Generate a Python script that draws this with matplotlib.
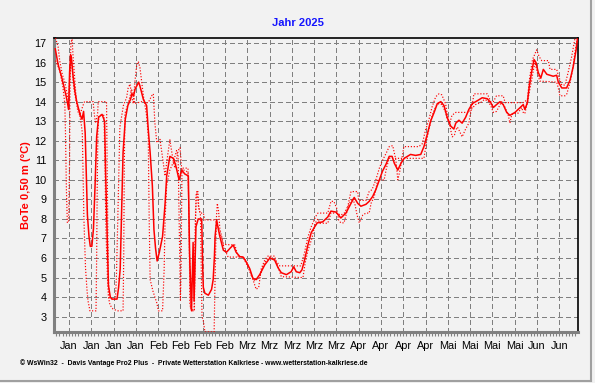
import matplotlib
matplotlib.use("Agg")
import matplotlib.pyplot as plt
from matplotlib.lines import Line2D

plt.rcParams['font.family'] = ['Liberation Sans', 'DejaVu Sans']

# ---- data: day offset (0 = 1 Jan 2025 00:00) and soil temperature at 0.5 m (degC)
avg_series = [(-0.3,16.7),(0.6,15.9),(1.8,15.2),(3.1,14.3),(3.7,13.8),(3.9,13.6),(4.2,15.5),(4.5,16.4),(4.8,16.2),(5.3,15.3),
 (5.9,14.5),(6.5,13.95),(7.6,13.3),(8.1,13.1),(8.6,13.5),(9.1,12.4),(9.4,10.6),(9.8,8.2),(10.3,7.1),(10.7,6.6),
 (11.2,6.6),(11.7,7.5),(12.2,9.7),(12.7,12.2),(13.3,13.2),(14.4,13.35),(15.2,13.0),(15.5,10.5),(16.0,7.1),(16.4,4.6),
 (17.0,4.0),(17.5,3.9),(19.1,3.9),(19.6,4.5),(20.1,5.45),(20.5,8.0),(21.0,11.4),(21.7,13.1),(22.5,13.8),(23.3,14.1),
 (23.8,14.4),(24.3,14.3),(24.8,14.65),(25.9,15.0),(26.3,14.8),(27.4,14.1),(28.4,13.8),(28.9,12.6),(29.5,11.4),(30.2,9.7),
 (30.7,7.45),(31.2,6.5),(31.7,5.85),(32.4,6.3),(33.4,7.1),(34.2,8.8),(34.7,10.2),(35.7,11.2),(36.8,11.1),(37.6,10.7),
 (38.6,10.0),(39.4,10.5),(40.4,10.3),(41.5,10.2),(41.9,6.2),(42.5,3.3),(43.0,6.8),(43.3,3.8),(43.9,7.6),(44.6,8.0),
 (45.7,8.0),(46.0,5.6),(46.2,4.5),(46.7,4.2),(47.8,4.1),(48.8,4.4),(49.3,4.9),(49.7,6.1),(49.9,7.1),(50.4,7.95),
 (50.9,7.5),(51.4,7.1),(52.5,6.4),(53.5,6.3),(54.6,6.5),(55.6,6.67),(56.5,6.3),(57.7,6.07),(58.7,6.05),(59.7,5.8),
 (60.8,5.45),(61.8,4.95),(62.8,4.9),(63.9,5.15),(65.5,5.65),(67.1,6.0),(68.6,5.9),(69.7,5.5),(70.7,5.25),(72.3,5.15),
 (73.8,5.3),(74.6,5.55),(75.4,5.3),(76.5,5.25),(77.2,5.4),(78.0,5.9),(79.1,6.7),(80.1,7.3),(81.2,7.6),(82.0,7.8),
 (83.7,7.85),(85.3,8.1),(86.3,8.4),(87.9,8.35),(89.4,8.05),(91.0,8.3),(92.6,8.8),(93.6,9.1),(94.7,8.8),(95.7,8.65),
 (97.3,8.75),(98.3,8.9),(99.4,9.15),(100.4,9.5),(101.5,10.0),(102.5,10.45),(103.6,10.8),(104.6,11.2),(105.5,11.2),(106.2,10.85),
 (107.3,10.5),(108.3,10.85),(109.3,11.1),(111.3,11.3),(112.9,11.25),(114.5,11.3),(115.5,11.7),(116.5,12.3),(117.6,13.0),(118.7,13.45),
 (119.7,13.9),(120.8,14.0),(121.8,13.8),(122.8,13.2),(123.9,12.75),(124.9,12.6),(125.5,12.9),(126.5,13.05),(127.5,12.9),(128.6,13.2),
 (129.6,13.6),(130.7,13.9),(132.3,14.05),(133.8,14.2),(135.4,14.15),(136.5,13.95),(137.3,13.7),(138.3,13.85),(139.4,14.0),(140.4,13.85),
 (141.5,13.45),(142.5,13.3),(144.1,13.45),(145.7,13.7),(146.7,13.85),(147.2,13.6),(148.0,13.95),(148.6,14.8),(149.3,15.5),(150.1,16.15),
 (150.7,16.0),(151.4,15.5),(152.2,15.2),(153.0,15.65),(154.1,15.4),(155.1,15.35),(156.1,15.3),(157.2,15.35),(157.7,15.0),(158.8,14.7),
 (160.3,14.7),(161.4,15.1),(162.4,15.8),(163.3,16.65),(163.7,17.2)]

hi_series = [(-0.2,17.25),(0.6,16.8),(1.1,16.1),(1.9,15.4),(2.7,15.0),(3.4,14.4),(3.9,14.0),(4.3,15.5),(4.7,16.3),(5.5,14.7),
 (6.3,14.0),(6.8,13.5),(7.4,13.3),(8.4,13.8),(8.9,14.0),(11.6,14.0),(12.0,13.3),(12.4,12.9),(13.0,13.4),(13.2,14.0),
 (15.8,14.0),(16.0,11.0),(16.3,6.0),(16.5,4.5),(16.7,3.95),(18.6,3.9),(18.9,5.0),(19.2,7.0),(19.6,10.0),(19.9,12.0),
 (20.0,12.7),(21.1,13.8),(22.1,14.2),(22.6,14.7),(23.2,14.9),(23.7,14.3),(24.2,13.9),(24.7,15.0),(25.3,15.9),(25.8,16.05),
 (26.3,15.74),(27.4,14.29),(28.4,13.27),(28.9,12.3),(29.2,8.0),(29.5,4.9),(30.4,4.3),(31.6,3.7),(32.1,3.3),(33.4,3.3),
 (33.9,5.4),(34.2,8.0),(34.7,9.7),(35.7,10.5),(36.8,10.9),(37.8,11.5),(38.3,11.2),(38.7,7.0),(39.0,3.85),(39.2,5.0),
 (39.5,10.6),(41.4,10.6),(41.7,8.0),(42.2,3.4),(43.3,3.3),(43.6,6.0),(43.9,9.2),(44.2,9.4),(44.7,8.6),(45.2,8.3),
 (46.2,8.3),(46.7,7.95),(49.6,7.95),(50.2,7.9),(50.8,7.6),(51.4,7.3),(52.0,7.0),(52.5,6.7),(55.5,6.67),(56.1,6.67),
 (57.1,6.1),(58.7,6.05),(59.3,5.95),(60.8,5.45),(61.8,4.9),(62.8,4.4),(63.6,4.5),(64.4,5.45),(65.5,5.9),(66.5,6.1),
 (68.6,6.1),(69.1,5.85),(70.2,5.6),(76.8,5.6),(77.8,6.15),(79.1,7.1),(80.1,7.6),(81.4,8.1),(82.2,8.3),(85.3,8.3),
 (86.3,8.9),(87.2,8.9),(88.1,8.55),(88.7,7.95),(89.4,7.8),(90.4,7.8),(91.2,8.3),(92.1,9.05),(92.6,9.4),(94.7,9.4),
 (95.0,8.95),(97.3,8.95),(98.3,9.4),(99.2,9.5),(100.4,10.0),(101.5,10.6),(102.5,11.0),(103.6,11.35),(104.6,11.7),(105.7,11.75),
 (106.7,11.0),(107.3,10.0),(108.0,10.5),(109.2,11.7),(113.9,11.7),(115.0,11.85),(116.0,12.55),(117.1,13.1),(118.1,13.75),(119.2,14.25),
 (120.2,14.4),(121.1,14.35),(122.3,13.9),(122.8,13.4),(123.9,12.55),(124.4,12.2),(125.1,12.3),(125.5,12.55),(126.0,12.7),(126.5,12.55),
 (127.5,12.2),(128.6,12.6),(129.6,12.9),(130.2,13.45),(130.7,13.85),(131.2,14.4),(135.4,14.4),(136.5,14.0),(137.3,14.0),(138.3,14.3),
 (140.4,14.3),(141.0,13.95),(146.7,13.95),(148.0,14.1),(148.6,15.1),(149.6,16.15),(150.9,16.65),(151.7,16.3),(152.5,16.1),(154.6,16.1),
 (155.1,15.65),(157.2,15.65),(157.7,15.35),(158.8,14.85),(159.8,14.85),(160.8,15.5),(161.9,16.3),(162.9,17.2),(163.7,17.3)]

lo_series = [(-0.2,16.1),(1.1,15.6),(2.1,14.75),(2.7,13.9),(2.9,12.5),(3.2,9.5),(3.5,7.8),(3.9,7.9),(4.2,11.0),(4.3,14.0),
 (4.6,17.0),(5.0,17.2),(5.3,16.3),(5.8,15.2),(6.3,14.1),(7.2,13.5),(7.9,12.8),(8.2,12.4),(8.7,8.0),(9.2,5.5),
 (9.7,4.3),(10.0,3.8),(10.6,3.3),(12.5,3.3),(12.7,6.0),(12.9,10.0),(13.1,12.5),(13.4,13.3),(15.0,13.3),(15.3,11.0),
 (15.6,7.5),(16.1,5.0),(16.4,4.0),(16.9,3.6),(17.8,3.4),(19.2,3.3),(21.0,3.3),(21.2,6.0),(21.4,11.0),(21.6,13.4),
 (22.6,13.9),(23.7,14.6),(24.2,14.4),(24.7,13.9),(25.8,13.95),(26.8,14.0),(27.9,13.95),(28.9,13.95),(30.0,14.3),(30.5,14.4),
 (31.0,12.9),(31.6,11.9),(32.6,12.07),(33.6,10.9),(34.2,10.2),(34.7,10.9),(35.7,12.05),(36.8,10.9),(37.3,10.6),(38.3,11.5),
 (38.9,11.65),(39.4,10.55),(41.4,10.4),(41.7,8.0),(42.0,3.6),(42.6,3.3),(43.4,3.3),(43.7,8.0),(44.1,9.3),(44.5,9.4),
 (44.8,8.6),(45.3,8.2),(45.8,3.0),(46.2,2.8),(46.7,2.22),(49.6,2.22),(49.9,5.0),(50.3,8.0),(50.6,8.8),(51.0,8.4),
 (51.4,7.5),(52.1,7.0),(52.7,6.5),(53.3,6.3),(54.0,6.05),(58.7,6.05),(60.2,5.55),(61.3,5.1),(62.3,4.85),(63.9,5.0),
 (64.9,5.55),(66.0,5.9),(67.1,6.05),(68.6,5.95),(69.7,5.55),(70.7,5.05),(77.5,5.0),(78.2,5.75),(79.1,6.4),(80.3,7.0),
 (81.4,7.8),(82.2,8.0),(82.8,7.78),(85.3,7.78),(86.3,8.3),(87.9,8.3),(89.4,8.2),(90.5,8.3),(92.1,8.8),(93.1,9.05),
 (93.9,8.7),(94.5,8.2),(95.2,7.8),(96.3,8.2),(97.3,8.3),(98.3,8.3),(98.9,8.8),(99.9,9.15),(101.0,10.0),(103.0,10.0),
 (103.8,10.65),(104.6,11.1),(115.5,11.1),(116.4,12.05),(117.1,12.6),(118.1,13.3),(119.2,13.75),(120.2,13.9),(121.2,13.85),(122.3,13.45),
 (122.8,13.1),(123.7,12.95),(124.3,13.3),(125.5,13.45),(129.6,13.45),(130.6,13.65),(131.7,13.85),(133.3,13.95),(134.4,14.1),(135.6,14.05),
 (136.6,13.75),(137.3,13.45),(138.3,13.5),(139.9,14.0),(141.0,13.7),(142.0,13.3),(142.5,12.9),(143.1,13.35),(144.1,13.4),(145.0,13.4),
 (146.2,13.7),(146.8,13.4),(147.2,13.4),(148.0,13.95),(148.6,14.5),(149.3,15.05),(149.8,15.55),(150.4,16.0),(151.1,15.5),(151.9,15.05),
 (157.2,15.0),(157.7,14.7),(158.2,14.3),(159.8,14.3),(160.4,14.4),(161.4,15.0),(162.2,15.6),(162.9,16.5),(163.7,17.2)]

week_ticks = [4 + 7 * k for k in range(23)]   # Sundays, 5 Jan .. 8 Jun
week_labels = ['Jan'] * 4 + ['Feb'] * 4 + ['Mrz'] * 5 + ['Apr'] * 4 + ['Mai'] * 4 + ['Jun'] * 2
y_ticks = list(range(3, 18))

title = 'Jahr 2025'
ylabel = 'BoTe 0,50 m (°C)'
footer = '© WsWin32  -  Davis Vantage Pro2 Plus  -  Private Wetterstation Kalkriese - www.wetterstation-kalkriese.de'

# ---- figure
W, H = 595, 383
fig = plt.figure(figsize=(W / 100, H / 100), dpi=100)
bg = '#f2f2f2'
fig.patch.set_facecolor(bg)

L, R, T, B = 54.3, 577.7, 38, 332
ax = fig.add_axes([L / W, 1 - B / H, (R - L) / W, (B - T) / H])
ax.set_facecolor(bg)
ax.set_xlim(-0.6, 163.8)
ax.set_ylim(2.217, 17.256)

ax.set_xticks(week_ticks)
ax.set_xticklabels(week_labels)
ax.set_xticks(range(0, 164), minor=True)
ax.set_yticks(y_ticks)
ax.set_yticklabels([str(v) for v in y_ticks])
ax.grid(True, which='major', color='#808080', linestyle=(0, (4, 3)), linewidth=0.8)
for gl in ax.get_xgridlines() + ax.get_ygridlines():
    gl.set_antialiased(False)
ax.set_axisbelow(True)

ax.tick_params(axis='x', which='both', direction='out', length=3, width=0.8,
               color='#808080', labelsize=7.8, pad=3.5)
ax.tick_params(axis='y', which='major', length=0, labelsize=7.8, pad=5.5)

for s in ('left', 'bottom'):
    ax.spines[s].set_color('#808080')
    ax.spines[s].set_linewidth(2.2)
for s in ('top', 'right'):
    ax.spines[s].set_color('black')
    ax.spines[s].set_linewidth(1.2)

def split(series):
    return [p[0] for p in series], [p[1] for p in series]

hx, hy = split(hi_series)
lx, ly = split(lo_series)
axx, axy = split(avg_series)
dot = (0, (1, 1.5))
ax.plot(hx, hy, color='red', linewidth=0.85, linestyle=dot, zorder=3)
ax.plot(lx, ly, color='red', linewidth=0.85, linestyle=dot, zorder=3)
ax.plot(axx, axy, color='red', linewidth=1.1, zorder=4)

fig.text(298 / W, 1 - 23 / H, title, color='#1414ff', fontweight='bold',
         fontsize=8, ha='center', va='center')
fig.text(26 / W, 1 - 185 / H, ylabel, color='red', fontweight='bold',
         fontsize=8, rotation=90, ha='center', va='center')
fig.text(20 / W, 1 - 363 / H, footer, fontweight='bold', fontsize=4.95,
         ha='left', va='center', color='black')

# panel border
fig.add_artist(Line2D([591 / W, 591 / W], [1 - 381 / H, 1], transform=fig.transFigure,
                      color='#a0a0a0', linewidth=1.5))
fig.add_artist(Line2D([0, 591 / W], [1 - 381 / H, 1 - 381 / H], transform=fig.transFigure,
                      color='#a0a0a0', linewidth=1.5))

fig.savefig('out.png', dpi=100, facecolor=fig.get_facecolor())
